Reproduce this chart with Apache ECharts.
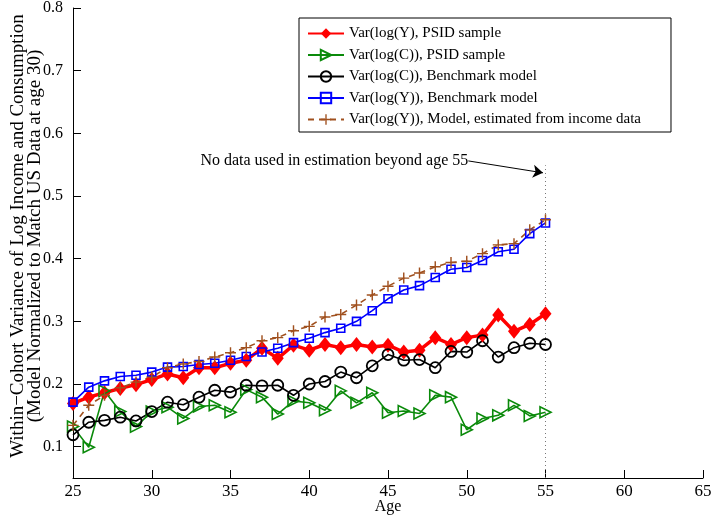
<!DOCTYPE html>
<html><head><meta charset="utf-8">
<script src="https://cdn.jsdelivr.net/npm/echarts@6/dist/echarts.min.js"></script>
<style>html,body{margin:0;padding:0;background:#fff}#c{width:712px;height:518px}</style>
</head><body><div id="c"></div>
<script>
const ages=[25,26,27,28,29,30,31,32,33,34,35,36,37,38,39,40,41,42,43,44,45,46,47,48,49,50,51,52,53,54,55];
const varY_PSID=[0.169,0.179,0.186,0.193,0.199,0.207,0.216,0.210,0.226,0.226,0.233,0.238,0.257,0.241,0.262,0.254,0.263,0.258,0.263,0.259,0.262,0.251,0.254,0.274,0.263,0.274,0.278,0.310,0.284,0.295,0.312];
const varC_PSID=[0.132,0.099,0.189,0.156,0.132,0.156,0.163,0.145,0.164,0.166,0.155,0.191,0.179,0.152,0.173,0.170,0.158,0.189,0.170,0.186,0.154,0.157,0.153,0.182,0.179,0.127,0.145,0.150,0.166,0.149,0.155];
const varC_model=[0.119,0.139,0.142,0.147,0.141,0.156,0.171,0.167,0.179,0.190,0.187,0.198,0.197,0.198,0.182,0.200,0.204,0.219,0.210,0.229,0.247,0.238,0.239,0.226,0.252,0.251,0.269,0.243,0.258,0.265,0.263];
const varY_model=[0.171,0.195,0.205,0.212,0.214,0.219,0.227,0.228,0.231,0.233,0.238,0.244,0.251,0.257,0.266,0.273,0.282,0.289,0.300,0.317,0.336,0.350,0.357,0.370,0.383,0.386,0.397,0.411,0.415,0.440,0.457];
const varY_est=[0.134,0.166,0.182,0.194,0.203,0.211,0.226,0.232,0.236,0.243,0.250,0.258,0.269,0.274,0.285,0.292,0.307,0.311,0.326,0.342,0.356,0.369,0.377,0.387,0.394,0.396,0.408,0.422,0.424,0.446,0.462];
const seriesNames=['Var(log(Y), PSID sample','Var(log(C)), PSID sample','Var(log(C)), Benchmark model','Var(log(Y)), Benchmark model','Var(log(Y)), Model, estimated from income data'];
const xTicks={min:25,max:65,step:5};
const yTicks=[0.1,0.2,0.3,0.4,0.5,0.6,0.7,0.8];
const yRange=[0.05,0.8];
const cutoffLine=[[55,0.05],[55,0.549]];
const arrowStart=[50.1,0.556];
const arrowEnd=[54.84,0.537];
const noteText='No data used in estimation beyond age 55';
const yTitle='Within\u2212Cohort Variance of Log Income and Consumption\n(Model Normalized to Match US Data at age 30)';

const F='"Liberation Serif","Times New Roman",serif';
const pair=(ys)=>ages.map((a,i)=>[a,ys[i]]);
const plus='path://M-1,-0.13L-0.13,-0.13L-0.13,-1L0.13,-1L0.13,-0.13L1,-0.13L1,0.13L0.13,0.13L0.13,1L-0.13,1L-0.13,0.13L-1,0.13Z';
const chart=echarts.init(document.getElementById('c'),null,{renderer:'canvas'});
chart.setOption({
  animation:false,
  backgroundColor:'#fff',
  grid:{left:73,right:9,top:8,bottom:40,containLabel:false,outerBoundsMode:'none'},
  legend:{
    data:seriesNames, orient:'vertical', left:299, top:18,
    itemWidth:36, itemHeight:13, itemGap:6.5,
    padding:[8,30,5,8], borderColor:'#000', borderWidth:1, backgroundColor:'#fff',
    textStyle:{fontFamily:F,fontSize:15,color:'#000',lineHeight:13}
  },
  xAxis:{type:'value',min:xTicks.min,max:xTicks.max,interval:xTicks.step,
    name:'Age',nameLocation:'middle',nameGap:21,nameMoveOverlap:false,
    nameTextStyle:{fontFamily:F,fontSize:16,color:'#000'},
    axisLine:{lineStyle:{color:'#000',width:1}},
    axisTick:{inside:true,length:8,lineStyle:{color:'#000'}},
    axisLabel:{fontFamily:F,fontSize:17,color:'#000',margin:5},
    splitLine:{show:false}},
  yAxis:{type:'value',min:yRange[0],max:yRange[1],
    name:yTitle,nameLocation:'middle',nameGap:29,nameRotate:90,nameMoveOverlap:false,
    nameTextStyle:{fontFamily:F,fontSize:19,color:'#000',lineHeight:17,padding:[0,0,0,14]},
    axisLine:{show:true,lineStyle:{color:'#000',width:1}},
    axisTick:{show:true,inside:true,length:8,customValues:yTicks,lineStyle:{color:'#000'}},
    axisLabel:{customValues:yTicks,formatter:v=>v.toFixed(1),fontFamily:F,fontSize:16,color:'#000',margin:10},
    splitLine:{show:false}},
  series:[
    {name:seriesNames[0],type:'line',data:pair(varY_PSID),symbol:'diamond',symbolSize:[12,15],
      lineStyle:{color:'#ff0000',width:3.5},itemStyle:{color:'#ff0000'}},
    {name:seriesNames[1],type:'line',data:pair(varC_PSID),symbol:'triangle',symbolRotate:-90,symbolSize:11,
      lineStyle:{color:'#0a8a0a',width:1.6},itemStyle:{color:'rgba(0,0,0,0)',borderColor:'#0a8a0a',borderWidth:1.6}},
    {name:seriesNames[2],type:'line',data:pair(varC_model),symbol:'circle',symbolSize:11,
      lineStyle:{color:'#000',width:1.6},itemStyle:{color:'rgba(0,0,0,0)',borderColor:'#000',borderWidth:1.8}},
    {name:seriesNames[3],type:'line',data:pair(varY_model),symbol:'rect',symbolSize:8,
      lineStyle:{color:'#0000ff',width:1.6},itemStyle:{color:'rgba(0,0,0,0)',borderColor:'#0000ff',borderWidth:1.6}},
    {name:seriesNames[4],type:'line',data:pair(varY_est),symbol:plus,symbolSize:11,
      lineStyle:{color:'#a0501e',width:1.6,type:[6,5]},itemStyle:{color:'#a0501e'}},
    {name:'',type:'line',data:cutoffLine,showSymbol:false,symbol:'none',silent:true,
      lineStyle:{color:'#777',width:1,type:[1,3]},
      markLine:{silent:true,symbol:['none','arrow'],symbolSize:10,animation:false,
        lineStyle:{color:'#000',width:1,type:'solid'},label:{show:false},
        data:[[{coord:arrowStart},{coord:arrowEnd}]]},
      markPoint:{silent:true,symbol:'circle',symbolSize:0,
        data:[{coord:arrowStart,label:{show:true,position:'left',distance:0,formatter:noteText,fontFamily:F,fontSize:16,color:'#000'}}]}
    }
  ]
});
</script></body></html>
